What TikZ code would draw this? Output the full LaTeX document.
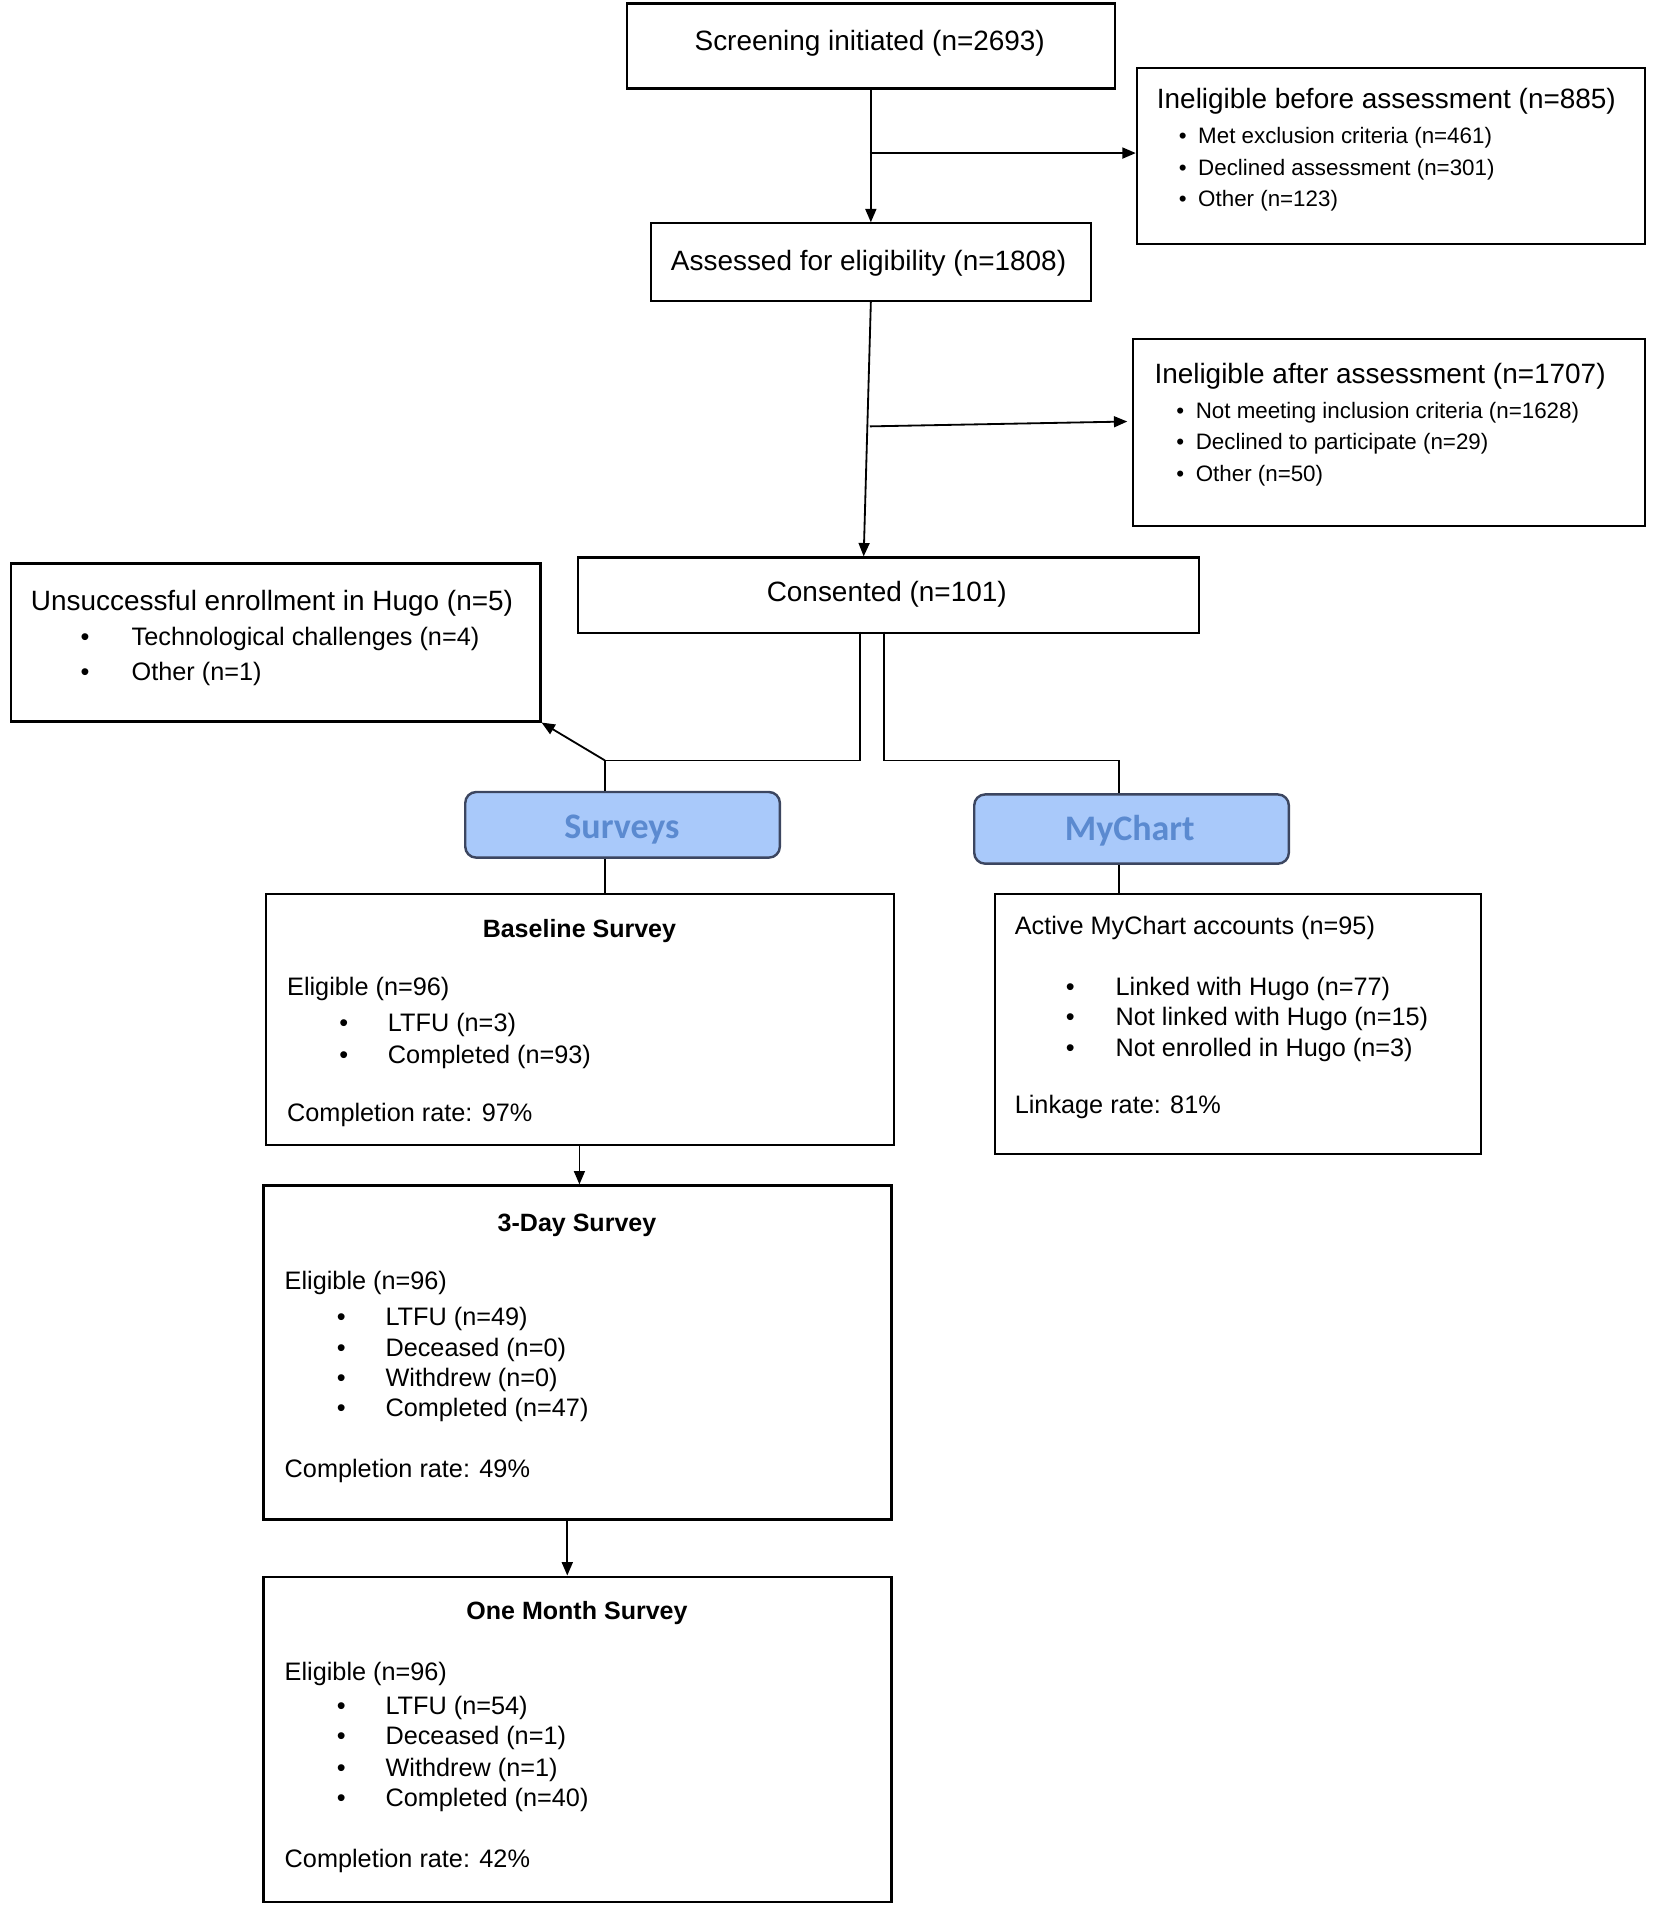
\documentclass[tikz,border=0pt]{standalone}
\usepackage{fontspec}
\setmainfont{Liberation Sans}
\newfontfamily\calibfont{Carlito}
\usetikzlibrary{arrows.meta}
\definecolor{lblue}{HTML}{A9C9FA}
\definecolor{tblue}{HTML}{5B8AD0}
\definecolor{bdr}{HTML}{3C4660}
\begin{document}
\begin{tikzpicture}[x=0.5pt,y=-0.5pt,
  box/.style={draw, line width=0.9pt, inner sep=0pt, anchor=north west},
  pill/.style={draw=bdr, fill=lblue, line width=1pt, rounded corners=4.5pt, inner sep=0pt, anchor=north west},
  plab/.style={inner sep=0pt, anchor=base, font=\calibfont\bfseries\fontsize{14.8}{16}\selectfont, text=tblue},
  tl/.style={inner sep=0pt, yshift=-1.5pt, text height=0.75em, text depth=0.21em, font=\fontsize{11.5}{13}\selectfont},
  ts/.style={inner sep=0pt, yshift=-1.5pt, text height=0.75em, text depth=0.21em, anchor=west, font=\fontsize{9.2}{11}\selectfont},
  tm/.style={inner sep=0pt, yshift=-1.5pt, text height=0.75em, text depth=0.21em, anchor=west, font=\fontsize{10.4}{12}\selectfont},
  tb/.style={inner sep=0pt, yshift=-1.5pt, text height=0.75em, text depth=0.21em, font=\bfseries\fontsize{10.3}{12}\selectfont},
  conn/.style={line width=0.75pt},
  arr/.style={line width=0.75pt, -{Triangle[length=5.5pt,width=4.5pt]}}]
\useasboundingbox (0,0) rectangle (1360,1574);

% boxes
\node[box, minimum width=201pt, minimum height=35pt] (scr) at (515,2) {};
\node[box, minimum width=209pt, minimum height=72.5pt] (inb) at (935,55) {};
\node[box, minimum width=181pt, minimum height=32pt] (ass) at (535,183) {};
\node[box, minimum width=210.5pt, minimum height=77pt] (ina) at (932,278) {};
\node[box, minimum width=255.5pt, minimum height=31pt] (con) at (475,458) {};
\node[box, minimum width=218pt, minimum height=65pt] (uns) at (8,463) {};
\node[pill, minimum width=129.5pt, minimum height=27pt] (sur) at (382,651) {};
\node[pill, minimum width=129.5pt, minimum height=28.5pt] (myc) at (801,653) {};
\node[box, minimum width=258.5pt, minimum height=103.5pt] (bas) at (218,735) {};
\node[box, minimum width=200pt, minimum height=107pt] (mci) at (818,735) {};
\node[box, minimum width=258.5pt, minimum height=137.5pt] (d3) at (216,975) {};
\node[box, minimum width=258.5pt, minimum height=134pt] (om) at (216,1297) {};

% pill labels (base = baseline)
\node[plab] (surT) at (512,690) {Surveys};
\node[plab] (mycT) at (930,692) {MyChart};

% texts
\node[tl] (scrT) at (716,33) {Screening initiated (n=2693)};
\node[tl, anchor=west] (inbT) at (952,81) {Ineligible before assessment (n=885)};
\node[ts] (inbB1) at (970,110) {•}; \node[ts] (inbI1) at (986,110) {Met exclusion criteria (n=461)};
\node[ts] (inbB2) at (970,136) {•}; \node[ts] (inbI2) at (986,136) {Declined assessment (n=301)};
\node[ts] (inbB3) at (970,162) {•}; \node[ts] (inbI3) at (986,162) {Other (n=123)};

\node[tl] (assT) at (715,214) {Assessed for eligibility (n=1808)};
\node[tl, anchor=west] (inaT) at (950,307) {Ineligible after assessment (n=1707)};
\node[ts] (inaB1) at (968,336) {•}; \node[ts] (inaI1) at (984,336) {Not meeting inclusion criteria (n=1628)};
\node[ts] (inaB2) at (968,362) {•}; \node[ts] (inaI2) at (984,362) {Declined to participate (n=29)};
\node[ts] (inaB3) at (968,388) {•}; \node[ts] (inaI3) at (984,388) {Other (n=50)};

\node[tl] (conT) at (730,487) {Consented (n=101)};
\node[tl, anchor=west] (unsT) at (25,494) {Unsuccessful enrollment in Hugo (n=5)};
\node[tm] (unsB1) at (66,523) {•}; \node[tm] (unsI1) at (108,523) {Technological challenges (n=4)};
\node[tm] (unsB2) at (66,552) {•}; \node[tm] (unsI2) at (108,552) {Other (n=1)};

\node[tb] (basT) at (477,763) {Baseline Survey};
\node[tm] (basE) at (236,811) {Eligible (n=96)};
\node[tm] (basB1) at (279,841) {•}; \node[tm] (basI1) at (319,841) {LTFU (n=3)};
\node[tm] (basB2) at (279,867) {•}; \node[tm] (basI2) at (319,867) {Completed (n=93)};
\node[tm] (basC) at (236,915) {Completion rate: 97\%};

\node[tm] (mciT) at (835,761) {Active MyChart accounts (n=95)};
\node[tm] (mciB1) at (877,811) {•}; \node[tm] (mciI1) at (918,811) {Linked with Hugo (n=77)};
\node[tm] (mciB2) at (877,836) {•}; \node[tm] (mciI2) at (918,836) {Not linked with Hugo (n=15)};
\node[tm] (mciB3) at (877,861) {•}; \node[tm] (mciI3) at (918,861) {Not enrolled in Hugo (n=3)};
\node[tm] (mciL) at (835,908) {Linkage rate: 81\%};

\node[tb] (d3T) at (475,1005) {3-Day Survey};
\node[tm] (d3E) at (234,1053) {Eligible (n=96)};
\node[tm] (d3B1) at (277,1083) {•}; \node[tm] (d3I1) at (317,1083) {LTFU (n=49)};
\node[tm] (d3B2) at (277,1108) {•}; \node[tm] (d3I2) at (317,1108) {Deceased (n=0)};
\node[tm] (d3B3) at (277,1133) {•}; \node[tm] (d3I3) at (317,1133) {Withdrew (n=0)};
\node[tm] (d3B4) at (277,1158) {•}; \node[tm] (d3I4) at (317,1158) {Completed (n=47)};
\node[tm] (d3C) at (234,1208) {Completion rate: 49\%};

\node[tb] (omT) at (475,1325) {One Month Survey};
\node[tm] (omE) at (234,1375) {Eligible (n=96)};
\node[tm] (omB1) at (277,1403) {•}; \node[tm] (omI1) at (317,1403) {LTFU (n=54)};
\node[tm] (omB2) at (277,1428) {•}; \node[tm] (omI2) at (317,1428) {Deceased (n=1)};
\node[tm] (omB3) at (277,1454) {•}; \node[tm] (omI3) at (317,1454) {Withdrew (n=1)};
\node[tm] (omB4) at (277,1479) {•}; \node[tm] (omI4) at (317,1479) {Completed (n=40)};
\node[tm] (omC) at (234,1529) {Completion rate: 42\%};

% connectors
\draw[arr] (scr.south) -- (ass.north);
\coordinate (b1) at (716,126);
\draw[arr] (b1) -- (b1 -| inb.west);
\coordinate (c1) at (711,458);
\draw[arr] (ass.south) -- (c1);
\coordinate (b2s) at (716,351);
\coordinate (b2e) at (928,347);
\draw[arr] (b2s) -- (b2e);
\coordinate (cl) at (708,520);
\coordinate (sj) at (498,626);
\draw[conn] (cl) |- (sj) -- (sj |- sur.north);
\draw[arr] (sj) -- (uns.south east);
\coordinate (cr) at (728,520);
\coordinate (mj) at (921,626);
\draw[conn] (cr) |- (mj) -- (mj |- myc.north);
\draw[conn] (sur.south -| sj) -- (sj |- bas.north);
\draw[conn] (myc.south -| mj) -- (mj |- mci.north);
\coordinate (a3) at (477,942);
\draw[arr] (a3) -- (a3 |- d3.north);
\coordinate (a4) at (467,1250);
\draw[arr] (a4) -- (a4 |- om.north);
\end{tikzpicture}
\end{document}
